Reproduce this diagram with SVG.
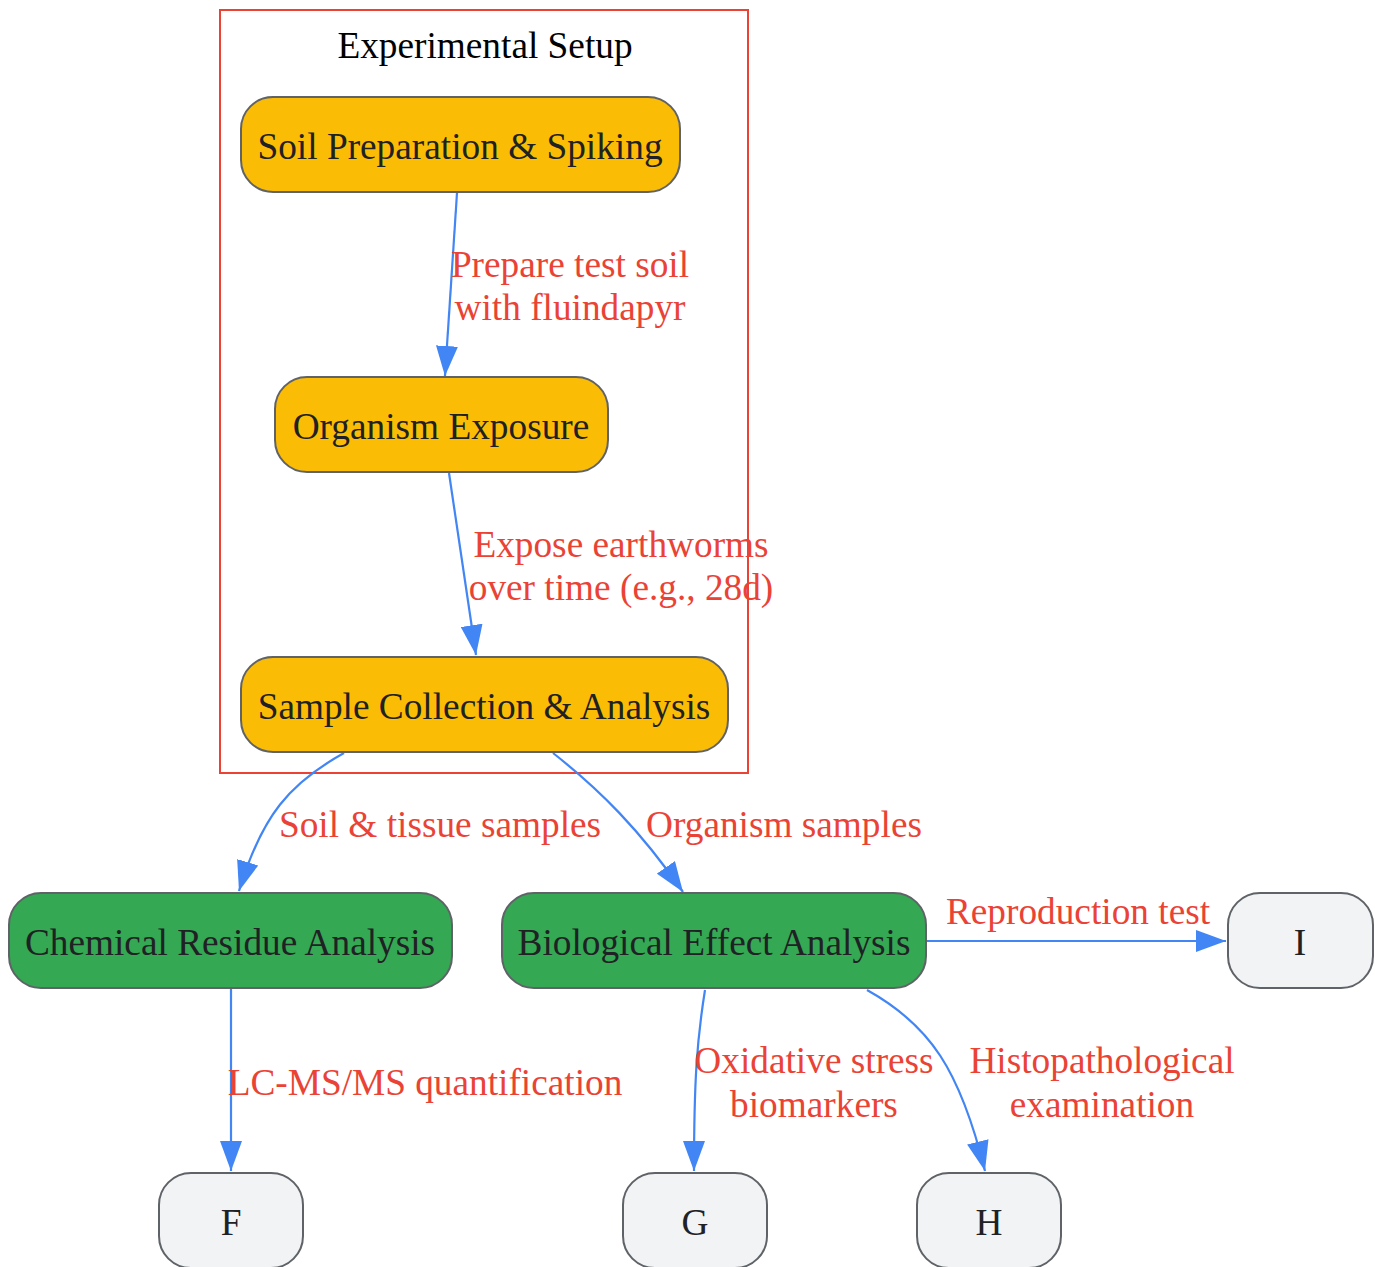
<svg xmlns="http://www.w3.org/2000/svg" width="1375" height="1267" viewBox="0 0 1375 1267">
<style>
text{font-family:"Liberation Serif","Times New Roman",serif;font-size:37.3px;text-anchor:middle}
.n rect{stroke:#5F6368;stroke-width:2}
.y rect{fill:#FBBC05}
.g rect{fill:#34A853}
.w rect{fill:#F1F3F4}
.n text{fill:#202124}
.e path{fill:none;stroke:#4285F4;stroke-width:2.2;marker-end:url(#arr)}
.l text{fill:#EA4335}
</style>
<defs>
<marker id="arr" viewBox="0 0 30 22" refX="30" refY="11" markerWidth="30" markerHeight="22" markerUnits="userSpaceOnUse" orient="auto">
<path d="M0,0 L30,11 L0,22 z" fill="#4285F4"/>
</marker>
</defs>
<rect width="1375" height="1267" fill="#FFFFFF"/>
<g id="cluster">
<rect x="220" y="10" width="528" height="763" fill="none" stroke="#EA4335" stroke-width="2"/>
<text x="485" y="58" fill="#000000">Experimental Setup</text>
</g>
<g id="edges" class="e">
<path d="M457,193 L445,376"/>
<path d="M449,473 L476,655"/>
<path d="M344,753 C290,783 262,815 239,891"/>
<path d="M553,753 C600,790 640,830 683,892"/>
<path d="M231,989 L231,1171"/>
<path d="M927,941 L1226,941"/>
<path d="M705,990 C697,1040 694,1080 694,1171"/>
<path d="M867,990 C930,1025 960,1070 985,1171"/>
</g>
<g id="edge-labels" class="l">
<text x="570" y="277">Prepare test soil</text>
<text x="570" y="320">with fluindapyr</text>
<text x="621" y="557">Expose earthworms</text>
<text x="621" y="600">over time (e.g., 28d)</text>
<text x="440" y="837">Soil &amp; tissue samples</text>
<text x="784" y="837">Organism samples</text>
<text x="425" y="1095">LC-MS/MS quantification</text>
<text x="1078" y="924">Reproduction test</text>
<text x="814" y="1073">Oxidative stress</text>
<text x="814" y="1117">biomarkers</text>
<text x="1102" y="1073">Histopathological</text>
<text x="1102" y="1117">examination</text>
</g>
<g id="A" class="n y"><rect x="241" y="97" width="439" height="95" rx="32"/><text x="460" y="159">Soil Preparation &amp; Spiking</text></g>
<g id="B" class="n y"><rect x="275" y="377" width="333" height="95" rx="32"/><text x="441" y="439">Organism Exposure</text></g>
<g id="C" class="n y"><rect x="241" y="657" width="487" height="95" rx="32"/><text x="484" y="719">Sample Collection &amp; Analysis</text></g>
<g id="D" class="n g"><rect x="9" y="893" width="443" height="95" rx="32"/><text x="230" y="955">Chemical Residue Analysis</text></g>
<g id="E" class="n g"><rect x="502" y="893" width="424" height="95" rx="32"/><text x="714" y="955">Biological Effect Analysis</text></g>
<g id="I" class="n w"><rect x="1228" y="893" width="145" height="95" rx="32"/><text x="1300" y="955">I</text></g>
<g id="F" class="n w"><rect x="159" y="1173" width="144" height="95" rx="32"/><text x="231" y="1235">F</text></g>
<g id="G" class="n w"><rect x="623" y="1173" width="144" height="95" rx="32"/><text x="695" y="1235">G</text></g>
<g id="H" class="n w"><rect x="917" y="1173" width="144" height="95" rx="32"/><text x="989" y="1235">H</text></g>
</svg>
